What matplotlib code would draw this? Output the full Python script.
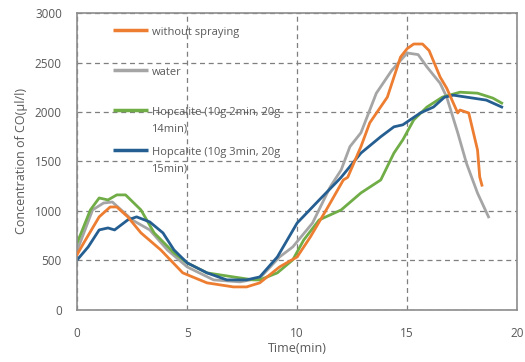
import matplotlib.pyplot as plt

# series (time in min, CO in ul/l)
t_orange = [0, 0.3, 1.0, 1.5, 1.8, 2.3, 2.9, 3.8, 4.8, 5.9, 7.1, 7.7, 8.3, 9.2, 10.0, 10.6,
            11.4, 12.1, 12.3, 12.9, 13.3, 14.1, 14.7, 15.0, 15.3, 15.7, 16.0, 16.5, 16.8,
            17.3, 17.4, 17.8, 18.2, 18.3, 18.4]
v_orange = [560, 677, 940, 1040, 1040, 940, 778, 606, 374, 273, 232, 232, 273, 434, 535, 737,
            1040, 1313, 1340, 1650, 1890, 2150, 2555, 2640, 2687, 2687, 2620, 2353, 2240,
            1990, 2020, 1990, 1616, 1343, 1260]

t_gray = [0, 0.7, 1.2, 1.6, 2.0, 2.5, 3.3, 4.1, 5.0, 6.2, 7.4, 8.3, 9.2, 9.8, 10.7, 11.5,
          12.0, 12.4, 12.9, 13.6, 14.3, 15.0, 15.5, 15.9, 16.5, 16.8, 17.3, 17.7, 18.2, 18.7]
v_gray = [600, 1010, 1080, 1090, 1010, 909, 808, 606, 434, 303, 283, 320, 535, 636, 878, 1242,
          1414, 1650, 1790, 2190, 2420, 2596, 2580, 2455, 2290, 2150, 1790, 1480, 1180, 940]

t_green = [0, 0.6, 1.0, 1.4, 1.8, 2.2, 2.9, 3.5, 4.4, 5.0, 5.9, 7.1, 8.0, 8.3, 9.1, 9.8,
           10.3, 11.0, 12.0, 12.9, 13.8, 14.4, 14.8, 15.3, 15.9, 16.6, 17.4, 18.2, 18.9, 19.3]
v_green = [677, 1010, 1131, 1111, 1162, 1162, 1010, 778, 576, 475, 374, 333, 303, 303, 374, 505,
           707, 909, 1010, 1182, 1313, 1585, 1717, 1920, 2050, 2150, 2200, 2190, 2140, 2090]

t_blue = [0, 0.5, 1.0, 1.4, 1.7, 2.3, 2.7, 3.3, 3.9, 4.4, 5.0, 5.9, 6.8, 7.7, 8.3, 9.1,
          10.0, 11.0, 11.8, 12.0, 12.9, 13.8, 14.4, 14.8, 15.6, 16.2, 16.7, 17.1, 17.7, 18.6, 19.3]
v_blue = [505, 636, 808, 828, 808, 909, 940, 889, 778, 606, 475, 374, 303, 303, 333, 535,
          878, 1110, 1293, 1340, 1585, 1750, 1850, 1870, 1990, 2050, 2150, 2170, 2150, 2120, 2050]

labels = ["without spraying", "water", "Hopcalite (10g 2min, 20g\n14min)",
          "Hopcalite (10g 3min, 20g\n15min)"]
colors = ["#ED7D31", "#A5A5A5", "#70AD47", "#255E91"]

x_ticks = [0, 5, 10, 15, 20]
y_ticks = [0, 500, 1000, 1500, 2000, 2500, 3000]

txt = "#595959"
plt.rcParams['font.family'] = ['Open Sans', 'DejaVu Sans']

fig = plt.figure(figsize=(5.25, 3.62), dpi=100)
ax = fig.add_axes([0.147, 0.144, 0.838, 0.82])

series = [(t_orange, v_orange), (t_gray, v_gray), (t_green, v_green), (t_blue, v_blue)]
for i, ((t, v), c) in enumerate(zip(series, colors)):
    ax.plot(t, v, color=c, lw=2.0, zorder=3 if i == 0 else 2)

ax.set_xlim(0, 20)
ax.set_ylim(0, 3000)
ax.set_xticks(x_ticks)
ax.set_yticks(y_ticks)
ax.grid(True, color="#7f7f7f", linestyle=(0, (4, 3)), lw=0.9)
ax.set_axisbelow(True)
for s in ax.spines.values():
    s.set_color("#8c8c8c")
    s.set_linewidth(1.2)
ax.tick_params(length=0, labelsize=8.5, colors=txt)
ax.tick_params(axis="x", pad=12)
ax.tick_params(axis="y", pad=11)

ax.set_xlabel("Time(min)", fontsize=9, color=txt, labelpad=2)
ax.set_ylabel("Concentration of CO(μl/l)", fontsize=9, color=txt, labelpad=5)

# legend drawn by hand, Excel-style: equal spacing, wrapped labels hang below
leg_top, leg_step = 0.943, 0.135
for i, (c, lab) in enumerate(zip(colors, labels)):
    y = leg_top - i * leg_step
    ax.plot([0.082, 0.16], [y, y], color=c, lw=2.5, transform=ax.transAxes,
            solid_capstyle="butt", zorder=4)
    ax.text(0.169, y + 0.011, lab, transform=ax.transAxes, fontsize=8, color=txt,
            va="top", ha="left", linespacing=1.75, zorder=4)

fig.savefig("out.png", dpi=100)
